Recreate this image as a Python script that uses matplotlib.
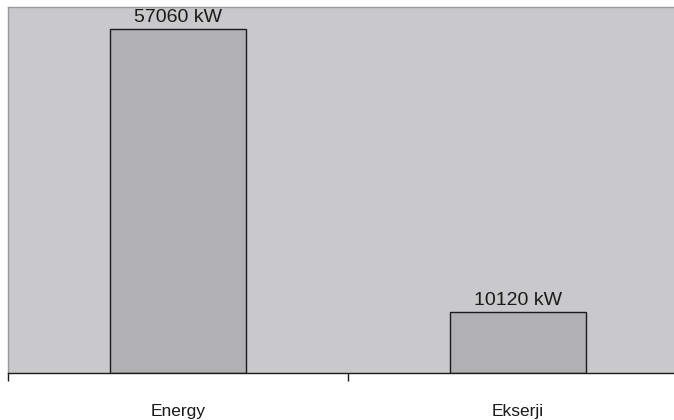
import matplotlib.pyplot as plt

categories = ['Energy', 'Ekserji']
values = [57060, 10120]
bar_labels = ['57060 kW', '10120 kW']

plt.rcParams['font.family'] = ['Liberation Sans', 'DejaVu Sans']

fig = plt.figure(figsize=(6.74, 4.2), dpi=100)
# axes runs past the right edge of the figure (chart is cropped there)
ax = fig.add_axes([8 / 674, 47 / 420, 680 / 674, 366 / 420])
ax.set_facecolor('#c9c9cb')

pos = [i + 0.5 for i in range(len(categories))]
bars = ax.bar(pos, values, width=0.4, color='#b1b1b4', edgecolor='#1a1a1a', linewidth=1.0)

for b, lab in zip(bars, bar_labels):
    ax.annotate(lab, (b.get_x() + b.get_width() / 2, b.get_height()),
                xytext=(0, 2), textcoords='offset points',
                ha='center', va='bottom', fontsize=14, color='#1a1a1a')

ax.set_xlim(0, len(categories))
ax.set_ylim(0, 60700)

# category boundaries as ticks, names centred in between
ax.set_xticks(range(len(categories) + 1))
ax.set_xticklabels([])
ax.set_xticks(pos, minor=True)
ax.set_xticklabels(categories, minor=True, fontsize=12.5, color='#1a1a1a')
ax.tick_params(axis='x', which='major', length=6, width=1, color='#1a1a1a', direction='out')
ax.tick_params(axis='x', which='minor', length=0, pad=22.5)
ax.set_yticks([])

ax.spines['bottom'].set_color('#1a1a1a')
ax.spines['bottom'].set_linewidth(1.0)
for s in ['top', 'left']:
    ax.spines[s].set_color('#9a9a9c')
    ax.spines[s].set_linewidth(1.0)
ax.spines['right'].set_visible(False)

fig.savefig('out.png', dpi=100)
